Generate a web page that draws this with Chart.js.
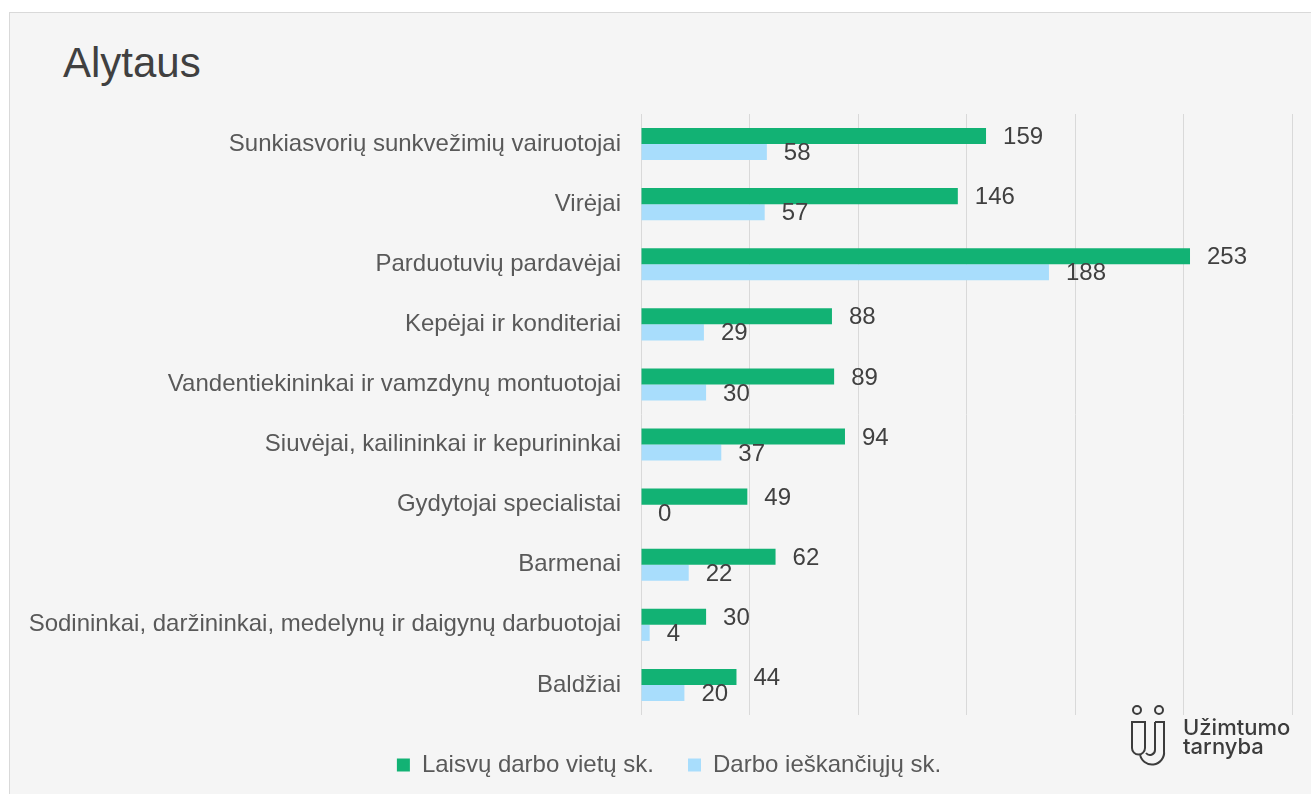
<!DOCTYPE html>
<html>
<head>
<meta charset="utf-8">
<script src="https://cdn.jsdelivr.net/npm/chart.js@4/dist/chart.umd.min.js"></script>
<style>
  html, body { margin: 0; padding: 0; background: #ffffff; }
  body { width: 1311px; height: 794px; position: relative; overflow: hidden; }
  #frame {
    position: absolute; left: 9px; top: 12px; width: 1310px; height: 790px;
    background: #f5f5f5; border: 1px solid #d9d9d9;
  }
  #title {
    position: absolute; left: 63px; top: 42px;
    font: 42px "Liberation Sans", Arial, sans-serif; line-height: 42px;
    color: #404040;
  }
  #chartBox { position: absolute; left: 0; top: 0; width: 1311px; height: 794px; }
  #logoText {
    position: absolute; left: 1183px; top: 718px;
    font: 500 22px Inter, "Noto Sans", sans-serif; line-height: 19px;
    color: #3c3c3c;
  }
  #logoIcon { position: absolute; left: 1125px; top: 695px; }
</style>
</head>
<body>
<div id="frame"></div>
<div id="title">Alytaus</div>
<div id="chartBox"><canvas id="jobsChart"></canvas></div>
<svg id="logoIcon" width="50" height="75" viewBox="1125 695 50 75">
  <g fill="none" stroke="#3c3c3c" stroke-width="2">
    <circle cx="1137" cy="710" r="4"/>
    <circle cx="1159" cy="710" r="4"/>
    <path d="M1132 722 H1145 V748 A6.5 6.5 0 0 1 1132 748 Z"/>
    <path d="M1155 722 H1164 V751 A12 12 0 0 1 1140 754"/>
    <path d="M1155 722 V750 A5 5 0 0 1 1146 753"/>
  </g>
</svg>
<div id="logoText">Užimtumo<br>tarnyba</div>

<script>
// Professions (top to bottom)
const categories = [
  'Sunkiasvorių sunkvežimių vairuotojai',
  'Virėjai',
  'Parduotuvių pardavėjai',
  'Kepėjai ir konditeriai',
  'Vandentiekininkai ir vamzdynų montuotojai',
  'Siuvėjai, kailininkai ir kepurininkai',
  'Gydytojai specialistai',
  'Barmenai',
  'Sodininkai, daržininkai, medelynų ir daigynų darbuotojai',
  'Baldžiai'
];

const seriesNames = ['Laisvų darbo vietų sk.', 'Darbo ieškančiųjų sk.'];

// Vacancies
const vacancies = [159, 146, 253, 88, 89, 94, 49, 62, 30, 44];
// Job seekers
const jobSeekers = [58, 57, 188, 29, 30, 37, 0, 22, 4, 20];

const axisMin = 0;
const axisMax = 300;
const axisStep = 50;

const FONT = '"Liberation Sans", Arial, sans-serif';

// simple value labels to the right of each bar
const barValueLabels = {
  id: 'barValueLabels',
  afterDatasetsDraw(chart) {
    const ctx = chart.ctx;
    ctx.save();
    ctx.font = '24px ' + FONT;
    ctx.fillStyle = '#404040';
    ctx.textAlign = 'left';
    ctx.textBaseline = 'middle';
    chart.data.datasets.forEach((ds, i) => {
      const meta = chart.getDatasetMeta(i);
      meta.data.forEach((bar, j) => {
        ctx.fillText(String(ds.data[j]), bar.x + 17, bar.y + 1.5);
      });
    });
    ctx.restore();
  }
};

// legend sits a bit right of the canvas centre in the original
const legendShift = {
  id: 'legendShift',
  afterLayout(chart) {
    if (chart.legend) {
      chart.legend.left += 13;
      chart.legend.right += 13;
    }
  }
};

new Chart(document.getElementById('jobsChart'), {
  type: 'bar',
  data: {
    labels: categories,
    datasets: [
      {
        label: seriesNames[0],
        data: vacancies,
        backgroundColor: '#12b274',
        barPercentage: 1,
        categoryPercentage: 0.534
      },
      {
        label: seriesNames[1],
        data: jobSeekers,
        backgroundColor: '#a8ddfc',
        barPercentage: 1,
        categoryPercentage: 0.534
      }
    ]
  },
  options: {
    indexAxis: 'y',
    responsive: true,
    maintainAspectRatio: false,
    animation: false,
    layout: {
      padding: { left: 20, right: 19, top: 114, bottom: 7 }
    },
    plugins: {
      title: { display: false },
      tooltip: { enabled: false },
      legend: {
        position: 'bottom',
        labels: {
          boxWidth: 13,
          boxHeight: 13,
          padding: 34,
          color: '#595959',
          font: { family: FONT, size: 24 }
        }
      }
    },
    scales: {
      x: {
        min: axisMin,
        max: axisMax,
        ticks: { display: false, stepSize: axisStep },
        grid: { color: '#d9d9d9', lineWidth: 1, drawTicks: false },
        border: { display: false },
        afterFit(scale) { scale.height = 4; }
      },
      y: {
        ticks: {
          autoSkip: false,
          padding: 20,
          color: '#595959',
          font: { family: FONT, size: 24 }
        },
        grid: { display: false, drawTicks: false },
        border: { display: false },
        afterFit(scale) { scale.width = 621; }
      }
    }
  },
  plugins: [barValueLabels, legendShift]
});
</script>
</body>
</html>
